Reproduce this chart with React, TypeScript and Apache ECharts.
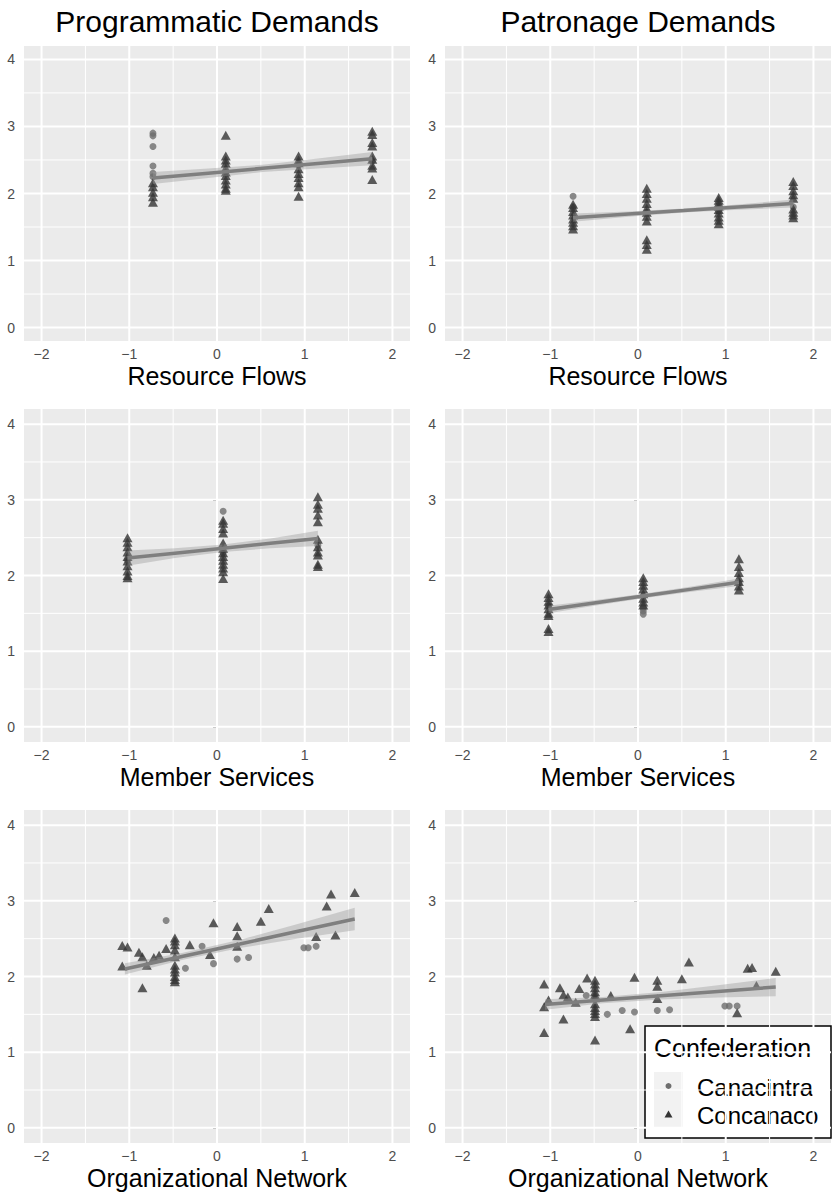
import React, { useEffect, useRef } from 'react';
import * as echarts from 'echarts';

const FONT = '"Liberation Sans", Arial, Helvetica, sans-serif';

const xTicks = [-2, -1, 0, 1, 2];
const yTicks = [0, 1, 2, 3, 4];
const xMinorGrid = [-1.5, -0.5, 0.5, 1.5];
const yMinorGrid = [0.5, 1.5, 2.5, 3.5];
const xRange = [-2.2, 2.2];
const yRange = [-0.2, 4.2];

const columnTitles = ['Programmatic Demands', 'Patronage Demands'];
const rowTitles = ['Resource Flows', 'Member Services', 'Organizational Network'];
const groupNames = ['Canacintra', 'Concanaco'];
const legendTitle = 'Confederation';

// ---- Resource Flows / Programmatic
const rfProgCanacintra = [[-0.73, 2.9], [-0.73, 2.86], [-0.73, 2.7], [-0.73, 2.41], [-0.73, 2.3], [-0.73, 2.25], [0.1, 2.32], [0.93, 2.42], [1.77, 2.48]];
const rfProgConcanaco = [
  [-0.73, 2.16], [-0.73, 2.1], [-0.73, 2.02], [-0.73, 1.95], [-0.73, 1.87],
  [0.1, 2.87], [0.1, 2.56], [0.1, 2.5], [0.1, 2.45], [0.1, 2.38], [0.1, 2.32], [0.1, 2.27], [0.1, 2.2], [0.1, 2.14], [0.1, 2.08], [0.1, 2.05],
  [0.93, 2.56], [0.93, 2.5], [0.93, 2.46], [0.93, 2.37], [0.93, 2.3], [0.93, 2.24], [0.93, 2.16], [0.93, 2.1], [0.93, 1.96],
  [1.77, 2.93], [1.77, 2.88], [1.77, 2.76], [1.77, 2.71], [1.77, 2.56], [1.77, 2.51], [1.77, 2.42], [1.77, 2.38], [1.77, 2.21],
];
const rfProgFitX = [-0.73, -0.1, 0.52, 1.15, 1.77];
const rfProgFitY = [2.23, 2.303, 2.375, 2.448, 2.52];
const rfProgFitSE = [0.09, 0.07, 0.055, 0.075, 0.1];

// ---- Resource Flows / Patronage
const rfPatCanacintra = [[-0.74, 1.96], [-0.74, 1.8], [0.1, 1.72], [0.92, 1.74], [1.77, 1.8]];
const rfPatConcanaco = [
  [-0.74, 1.84], [-0.74, 1.79], [-0.74, 1.73], [-0.74, 1.68], [-0.74, 1.62], [-0.74, 1.57], [-0.74, 1.52], [-0.74, 1.47],
  [0.1, 2.08], [0.1, 2.0], [0.1, 1.93], [0.1, 1.85], [0.1, 1.78], [0.1, 1.72], [0.1, 1.66], [0.1, 1.59], [0.1, 1.31], [0.1, 1.24], [0.1, 1.17],
  [0.92, 1.94], [0.92, 1.9], [0.92, 1.86], [0.92, 1.81], [0.92, 1.76], [0.92, 1.71], [0.92, 1.65], [0.92, 1.6], [0.92, 1.55],
  [1.77, 2.18], [1.77, 2.12], [1.77, 2.04], [1.77, 1.98], [1.77, 1.93], [1.77, 1.77], [1.77, 1.72], [1.77, 1.68], [1.77, 1.64],
];
const rfPatFitX = [-0.74, -0.11, 0.52, 1.14, 1.77];
const rfPatFitY = [1.64, 1.693, 1.745, 1.797, 1.85];
const rfPatFitSE = [0.06, 0.04, 0.03, 0.04, 0.06];

// ---- Member Services / Programmatic
const msProgCanacintra = [[0.07, 2.85], [-1.02, 2.2], [0.07, 2.3], [1.15, 2.4]];
const msProgConcanaco = [
  [-1.02, 2.5], [-1.02, 2.44], [-1.02, 2.38], [-1.02, 2.31], [-1.02, 2.25], [-1.02, 2.19], [-1.02, 2.13], [-1.02, 2.06], [-1.02, 2.0], [-1.02, 1.97],
  [0.07, 2.73], [0.07, 2.69], [0.07, 2.62], [0.07, 2.56], [0.07, 2.43], [0.07, 2.36], [0.07, 2.3], [0.07, 2.25], [0.07, 2.2], [0.07, 2.15], [0.07, 2.1], [0.07, 2.05], [0.07, 1.96],
  [1.15, 3.04], [1.15, 2.94], [1.15, 2.89], [1.15, 2.8], [1.15, 2.71], [1.15, 2.48], [1.15, 2.38], [1.15, 2.31], [1.15, 2.27], [1.15, 2.15], [1.15, 2.12],
];
const msProgFitX = [-1.02, -0.48, 0.07, 0.61, 1.15];
const msProgFitY = [2.23, 2.295, 2.36, 2.425, 2.49];
const msProgFitSE = [0.1, 0.065, 0.05, 0.065, 0.1];

// ---- Member Services / Patronage
const msPatCanacintra = [[0.06, 1.57], [0.06, 1.53], [0.06, 1.49], [-1.02, 1.6], [1.15, 1.9]];
const msPatConcanaco = [
  [-1.02, 1.76], [-1.02, 1.71], [-1.02, 1.66], [-1.02, 1.61], [-1.02, 1.56], [-1.02, 1.5], [-1.02, 1.47], [-1.02, 1.3], [-1.02, 1.26],
  [0.06, 1.97], [0.06, 1.92], [0.06, 1.87], [0.06, 1.82], [0.06, 1.76], [0.06, 1.7], [0.06, 1.65], [0.06, 1.61],
  [1.15, 2.22], [1.15, 2.12], [1.15, 2.04], [1.15, 1.97], [1.15, 1.92], [1.15, 1.86], [1.15, 1.81],
];
const msPatFitX = [-1.02, -0.48, 0.06, 0.61, 1.15];
const msPatFitY = [1.55, 1.64, 1.73, 1.82, 1.91];
const msPatFitSE = [0.05, 0.035, 0.03, 0.035, 0.05];

// ---- Organizational Network / Programmatic
const onProgCanacintra = [[-0.58, 2.74], [-0.36, 2.11], [-0.17, 2.4], [-0.04, 2.17], [0.23, 2.23], [0.36, 2.25], [0.99, 2.38], [1.04, 2.38], [1.13, 2.4]];
const onProgConcanaco = [
  [-1.08, 2.41], [-1.02, 2.39], [-0.89, 2.32], [-0.85, 2.26], [-0.72, 2.25], [-0.66, 2.28], [-0.58, 2.37],
  [-1.08, 2.14], [-0.8, 2.15], [-0.85, 1.85],
  [-0.48, 2.51], [-0.48, 2.47], [-0.48, 2.42], [-0.48, 2.35], [-0.48, 2.26], [-0.48, 2.15], [-0.48, 2.1], [-0.48, 2.06], [-0.48, 2.0], [-0.48, 1.96], [-0.48, 1.93],
  [-0.31, 2.42], [-0.08, 2.29], [-0.04, 2.71], [0.23, 2.66], [0.23, 2.54], [0.23, 2.4], [0.5, 2.73], [0.59, 2.9],
  [1.13, 2.53], [1.25, 2.93], [1.3, 3.09], [1.35, 2.55], [1.57, 3.11],
];
const onProgFitX = [-1.05, -0.4, 0.26, 0.91, 1.57];
const onProgFitY = [2.1, 2.264, 2.43, 2.594, 2.76];
const onProgFitSE = [0.075, 0.045, 0.055, 0.095, 0.15];

// ---- Organizational Network / Patronage
const onPatCanacintra = [[-0.59, 1.75], [-0.35, 1.5], [-0.18, 1.55], [-0.04, 1.53], [0.22, 1.55], [0.36, 1.56], [0.99, 1.61], [1.04, 1.61], [1.13, 1.61]];
const onPatConcanaco = [
  [-1.07, 1.9], [-1.02, 1.69], [-1.07, 1.6], [-1.07, 1.26], [-0.89, 1.85], [-0.85, 1.76], [-0.8, 1.73], [-0.85, 1.44], [-0.71, 1.66], [-0.67, 1.84], [-0.58, 1.98],
  [-0.49, 1.95], [-0.49, 1.9], [-0.49, 1.85], [-0.49, 1.8], [-0.49, 1.76], [-0.49, 1.72], [-0.49, 1.64], [-0.49, 1.59], [-0.49, 1.55], [-0.49, 1.51], [-0.49, 1.47], [-0.49, 1.16],
  [-0.31, 1.75], [-0.04, 1.99], [-0.09, 1.31], [0.22, 1.95], [0.22, 1.87], [0.22, 1.71], [0.5, 1.97], [0.58, 2.19],
  [1.13, 1.52], [1.25, 2.11], [1.3, 2.12], [1.35, 1.88], [1.57, 2.07],
];
const onPatFitX = [-1.06, -0.4, 0.26, 0.91, 1.57];
const onPatFitY = [1.63, 1.688, 1.746, 1.803, 1.86];
const onPatFitSE = [0.07, 0.04, 0.05, 0.08, 0.12];

const panels = [
  { row: 0, col: 0, can: rfProgCanacintra, con: rfProgConcanaco, fx: rfProgFitX, fy: rfProgFitY, se: rfProgFitSE },
  { row: 0, col: 1, can: rfPatCanacintra, con: rfPatConcanaco, fx: rfPatFitX, fy: rfPatFitY, se: rfPatFitSE },
  { row: 1, col: 0, can: msProgCanacintra, con: msProgConcanaco, fx: msProgFitX, fy: msProgFitY, se: msProgFitSE },
  { row: 1, col: 1, can: msPatCanacintra, con: msPatConcanaco, fx: msPatFitX, fy: msPatFitY, se: msPatFitSE },
  { row: 2, col: 0, can: onProgCanacintra, con: onProgConcanaco, fx: onProgFitX, fy: onProgFitY, se: onProgFitSE },
  { row: 2, col: 1, can: onPatCanacintra, con: onPatConcanaco, fx: onPatFitX, fy: onPatFitY, se: onPatFitSE },
];

const colLayout = [{ left: 24, width: 386 }, { left: 445, width: 386 }];
const rowLayout = [{ top: 46, height: 295 }, { top: 409, height: 333 }, { top: 810, height: 333 }];

const CAN_COLOR = '#6E6E6E';
const CON_COLOR = '#353535';

const fmtTick = (v: number) => {
  if (Math.abs(v - Math.round(v)) > 1e-6) return '';
  return v < 0 ? '\u2212' + Math.abs(v) : String(v);
};

function buildOption() {
  const grid: any[] = [];
  const xAxis: any[] = [];
  const yAxis: any[] = [];
  const series: any[] = [];

  const gridData: number[][] = [];
  xTicks.forEach((v) => gridData.push([v, 0, 1]));
  xMinorGrid.forEach((v) => gridData.push([v, 0, 0]));
  yTicks.forEach((v) => gridData.push([v, 1, 1]));
  yMinorGrid.forEach((v) => gridData.push([v, 1, 0]));

  panels.forEach((p, i) => {
    const c = colLayout[p.col];
    const r = rowLayout[p.row];
    grid.push({
      left: c.left, width: c.width, top: r.top, height: r.height,
      show: true, backgroundColor: '#EBEBEB', borderWidth: 0,
      containLabel: false, outerBoundsMode: 'none',
    });
    xAxis.push({
      type: 'value', gridIndex: i, min: xRange[0], max: xRange[1],
      name: rowTitles[p.row], nameLocation: 'middle', nameGap: 22, nameMoveOverlap: false,
      nameTextStyle: { fontSize: 25, color: '#000', fontFamily: FONT },
      axisLine: { show: false },
      axisTick: { show: true, length: 4, lineStyle: { color: '#333333', width: 1 }, customValues: xTicks },
      axisLabel: { fontSize: 14, color: '#4D4D4D', margin: 6, fontFamily: FONT, customValues: xTicks, formatter: fmtTick },
      splitLine: { show: false },
    });
    yAxis.push({
      type: 'value', gridIndex: i, min: yRange[0], max: yRange[1],
      axisLine: { show: false },
      axisTick: { show: true, length: 4, lineStyle: { color: '#333333', width: 1 }, customValues: yTicks },
      axisLabel: { fontSize: 14, color: '#4D4D4D', margin: 9, fontFamily: FONT, customValues: yTicks, formatter: fmtTick },
      splitLine: { show: false },
    });
    series.push({
      type: 'custom', xAxisIndex: i, yAxisIndex: i, z: 1, silent: true,
      data: gridData,
      renderItem: (params: any, api: any) => {
        const v = api.value(0);
        const orient = api.value(1);
        const major = api.value(2);
        let a, b;
        if (orient === 0) { a = api.coord([v, yRange[0]]); b = api.coord([v, yRange[1]]); }
        else { a = api.coord([xRange[0], v]); b = api.coord([xRange[1], v]); }
        return {
          type: 'line', silent: true,
          shape: { x1: a[0], y1: a[1], x2: b[0], y2: b[1] },
          style: { stroke: '#FFFFFF', lineWidth: major ? 2 : 1 },
        };
      },
    });
    series.push({
      type: 'scatter', name: groupNames[0], xAxisIndex: i, yAxisIndex: i, z: 2,
      symbol: 'circle', symbolSize: 7, itemStyle: { color: CAN_COLOR },
      data: p.can,
    });
    series.push({
      type: 'scatter', name: groupNames[1], xAxisIndex: i, yAxisIndex: i, z: 2,
      symbol: 'triangle', symbolSize: [10, 9], itemStyle: { color: CON_COLOR },
      data: p.con,
    });
    series.push({
      type: 'custom', xAxisIndex: i, yAxisIndex: i, z: 3, silent: true,
      data: p.fx.map((x, k) => [x, p.fy[k], p.se[k]]),
      renderItem: (params: any, api: any) => {
        if (params.dataIndex !== 0) return null;
        const upper = p.fx.map((x, k) => api.coord([x, p.fy[k] + p.se[k]]));
        const lower = p.fx.map((x, k) => api.coord([x, p.fy[k] - p.se[k]])).reverse();
        return {
          type: 'polygon', silent: true,
          shape: { points: upper.concat(lower) },
          style: { fill: 'rgba(153,153,153,0.4)' },
        };
      },
    });
    series.push({
      type: 'line', xAxisIndex: i, yAxisIndex: i, z: 4, silent: true,
      symbol: 'none', lineStyle: { color: '#7F7F7F', width: 3.5 },
      data: p.fx.map((x, k) => [x, p.fy[k]]),
    });
  });

  const colCenters = colLayout.map((c) => c.left + c.width / 2);
  const legendText = (text: string, x: number, y: number, size: number) => ({
    type: 'text', x, y,
    style: { text, fontSize: size, fontFamily: FONT, fill: '#000', stroke: 'none', lineWidth: 0, textAlign: 'left', textVerticalAlign: 'middle' },
  });

  const graphic: any[] = [
    ...columnTitles.map((t, k) => ({
      type: 'text', x: colCenters[k], y: 21, z: 100,
      style: { text: t, fontSize: 30, fontFamily: FONT, fill: '#000', textAlign: 'center', textVerticalAlign: 'middle' },
    })),
    {
      type: 'group', z: 100,
      children: [
        { type: 'rect', shape: { x: 645, y: 1026, width: 186, height: 112 }, style: { fill: '#FFFFFF', stroke: '#000', lineWidth: 1.5 } },
        legendText(legendTitle, 654, 1048, 25),
        { type: 'rect', shape: { x: 654, y: 1072, width: 29, height: 28 }, style: { fill: '#F2F2F2' } },
        { type: 'rect', shape: { x: 654, y: 1100, width: 29, height: 28 }, style: { fill: '#F2F2F2' } },
        { type: 'circle', shape: { cx: 668.5, cy: 1086, r: 3 }, style: { fill: CAN_COLOR } },
        { type: 'polygon', shape: { points: [[668.5, 1110.5], [672.5, 1117.5], [664.5, 1117.5]] }, style: { fill: CON_COLOR } },
        legendText(groupNames[0], 697, 1087, 24),
        legendText(groupNames[1], 697, 1115, 24),
      ],
    },
  ];

  return {
    animation: false,
    backgroundColor: '#FFFFFF',
    textStyle: { fontFamily: FONT },
    grid, xAxis, yAxis, series, graphic,
  };
}

export default function App() {
  const ref = useRef<HTMLDivElement>(null);
  useEffect(() => {
    if (!ref.current) return;
    const chart = echarts.init(ref.current, undefined, { renderer: 'svg' });
    chart.setOption(buildOption() as any);
    return () => chart.dispose();
  }, []);
  return (
    <div
      ref={ref}
      style={{ position: 'absolute', left: 0, top: 0, width: 832, height: 1195 }}
    />
  );
}
